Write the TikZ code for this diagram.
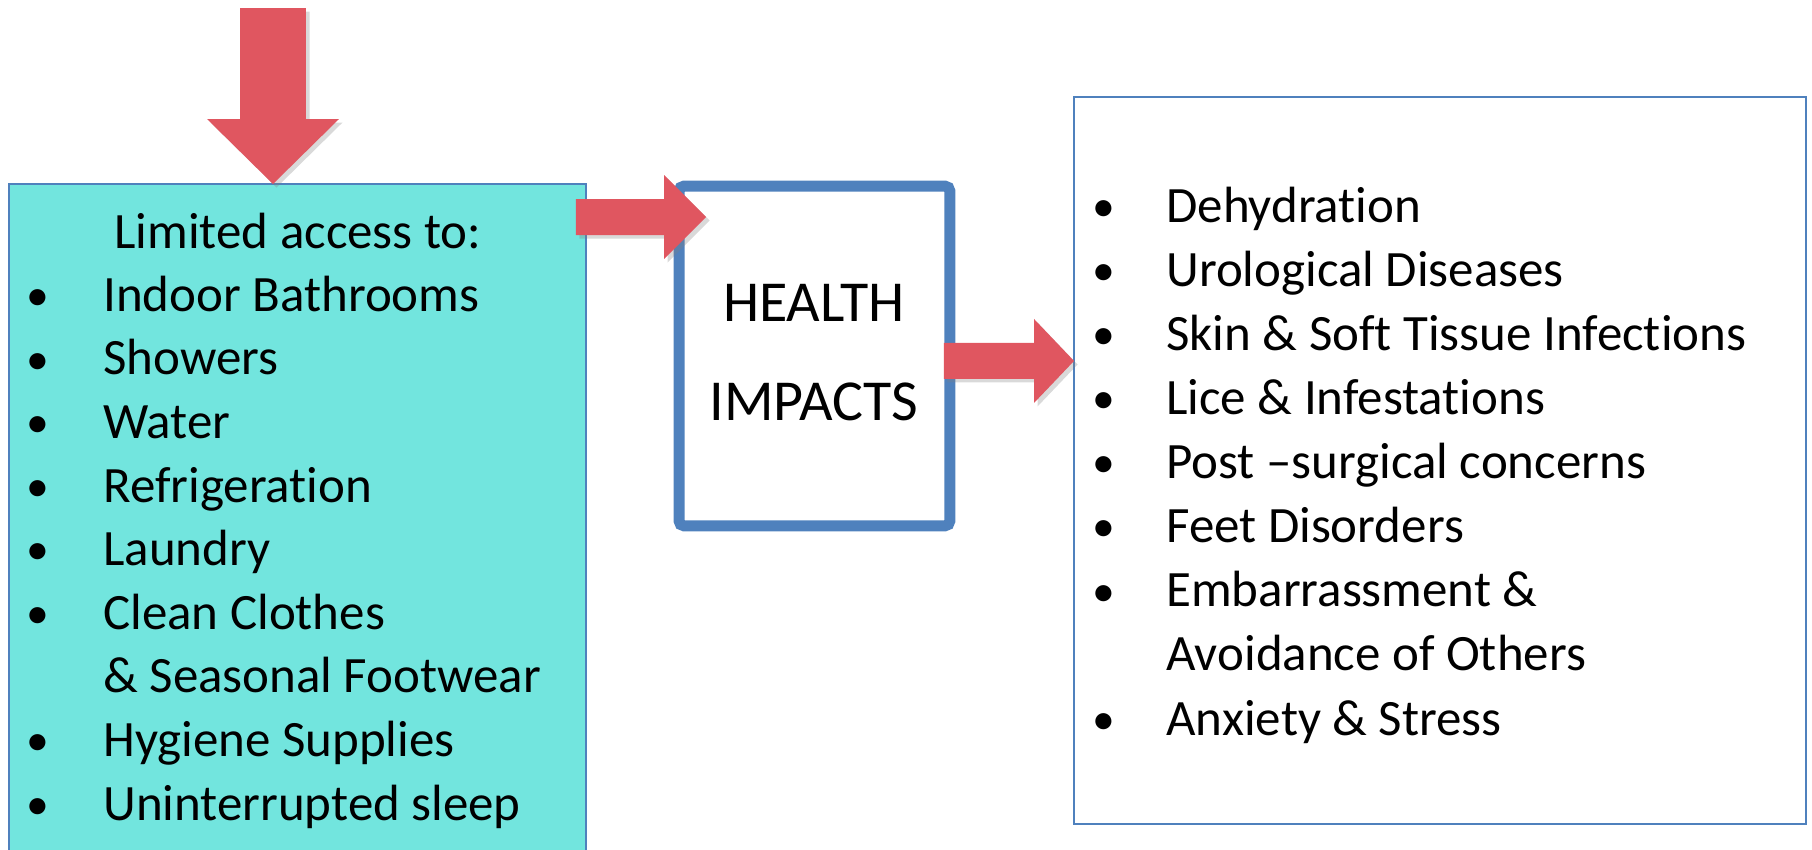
\documentclass[tikz,border=0pt]{standalone}
\usepackage{fontspec}
\setmainfont{Carlito}[Ligatures=NoCommon]
\usetikzlibrary{calc, shadows}

\definecolor{arrowred}{RGB}{224,86,96}
\definecolor{boxcyan}{RGB}{114,229,222}
\definecolor{boxblue}{RGB}{79,129,189}

% block arrow: from, to, shaft half width, head half width, head length
\newcommand{\fatarrow}[5]{%
  \coordinate (headbase) at ($(#2)!#5!(#1)$);
  \fill[arrowred, drop shadow={shadow xshift=2pt, shadow yshift=-2pt, opacity=0.3}]
    ($(#1)!#3!90:(#2)$) -- ($(headbase)!#3!90:(#2)$) -- ($(headbase)!#4!90:(#2)$)
    -- (#2) -- ($(headbase)!#4!-90:(#2)$) -- ($(headbase)!#3!-90:(#2)$)
    -- ($(#1)!#3!-90:(#2)$) -- cycle;
}

\begin{document}
\begin{tikzpicture}[x=0.02cm, y=-0.02cm,
    item/.style={font=\fontsize{29}{35}\selectfont, inner sep=0pt},
    dot/.style={font=\fontsize{26}{30}\selectfont, inner sep=0pt},
    bigtext/.style={font=\fontsize{33}{40}\selectfont, inner sep=0pt}]
\useasboundingbox (0,0) rectangle (1812,849);
\clip (0,0) rectangle (1812,849);

% Boxes
\node[draw=boxblue, line width=0.9pt, fill=boxcyan, outer sep=0pt, anchor=north west,
      minimum width=11.54cm, minimum height=14.4cm] (access) at (9,184) {};
\node[draw=boxblue, line width=11*0.02cm, rounded corners=3pt, outer sep=0pt, anchor=north west,
      minimum width=5.42cm, minimum height=6.8cm] (health) at (679,186) {};
\node[draw=boxblue, line width=0.9pt, outer sep=0pt, anchor=north west,
      minimum width=14.64cm, minimum height=14.54cm] (effects) at (1074,97) {};

% Left list
\node[item] (limhead) at (298,231) {Limited access to:};
\foreach \b/\txt [count=\i from 0] in {1/Indoor Bathrooms, 1/Showers, 1/Water,
    1/Refrigeration, 1/Laundry, 1/Clean Clothes, 0/\& Seasonal Footwear,
    1/Hygiene Supplies, 1/Uninterrupted sleep} {
  \node[item, anchor=mid west] (need\i) at (103,{307+63.6*\i}) {\txt};
  \ifnum\b=1 \node[dot, anchor=center] at (38,{300+63.6*\i}) {\textbullet}; \fi
}

% Middle
\node[bigtext] (hl1) at (814,303) {HEALTH};
\node[bigtext] (hl2) at (814,402) {IMPACTS};

% Right list
\foreach \b/\txt [count=\i from 0] in {1/Dehydration, 1/Urological Diseases,
    1/Skin \& Soft Tissue Infections, 1/Lice \& Infestations,
    1/Post --surgical concerns, 1/Feet Disorders, 1/Embarrassment \&,
    0/Avoidance of Others, 1/Anxiety \& Stress} {
  \node[item, anchor=mid west] (impact\i) at (1166,{218+64.1*\i}) {\txt};
  \ifnum\b=1 \node[dot, anchor=center] at (1104,{211+64.1*\i}) {\textbullet}; \fi
}

% Arrows
\coordinate (a0) at (273,8);
\coordinate (a1) at ($(access.north east)+(-10,33)$);
\coordinate (a2) at ($(health.east)+(-6,5)$);
\fatarrow{a0}{a0 |- access.north}{0.66cm}{1.32cm}{1.3cm}
\fatarrow{a1}{$(health.north west)+(27,31)$}{0.36cm}{0.84cm}{0.84cm}
\fatarrow{a2}{a2 -| effects.west}{0.36cm}{0.84cm}{0.8cm}
\end{tikzpicture}
\end{document}
